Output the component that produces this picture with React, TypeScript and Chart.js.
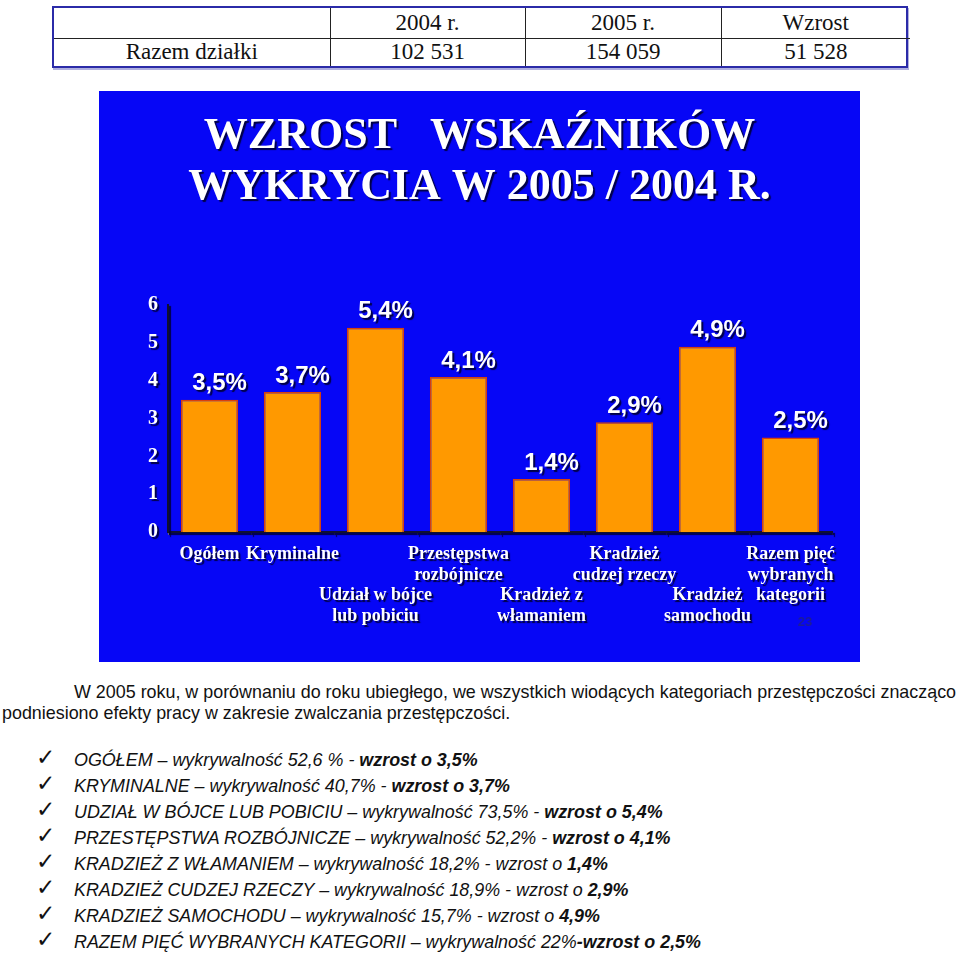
import React, { useEffect, useRef } from "react";
import { Chart, registerables } from "chart.js";

Chart.register(...registerables);

// ---------- data ----------
const tableHeader = ["", "2004 r.", "2005 r.", "Wzrost"];
const tableRow = ["Razem działki", "102 531", "154 059", "51 528"];

const chartTitle = ["WZROST   WSKAŹNIKÓW", "WYKRYCIA W 2005 / 2004 R."];

const categoryLabels: string[][] = [
  ["Ogółem"],
  ["Kryminalne"],
  ["", "", "Udział w bójce", "lub pobiciu"],
  ["Przestępstwa", "rozbójnicze"],
  ["", "", "Kradzież z", "włamaniem"],
  ["Kradzież", "cudzej rzeczy"],
  ["", "", "Kradzież", "samochodu"],
  ["Razem pięć", "wybranych", "kategorii"],
];

const growthValues = [3.5, 3.7, 5.4, 4.1, 1.4, 2.9, 4.9, 2.5];

const yMin = 0;
const yMax = 6;
const yStep = 1;

const pageNumber = "23";

const introLine1 = "W 2005 roku, w porównaniu do roku ubiegłego, we wszystkich wiodących kategoriach przestępczości znacząco";
const introLine2 = "podniesiono efekty pracy w zakresie zwalczania przestępczości.";

type Seg = [string, boolean];
const listItems: Seg[][] = [
  [["OGÓŁEM – wykrywalność 52,6 % - ", false], ["wzrost o 3,5%", true]],
  [["KRYMINALNE – wykrywalność 40,7% - ", false], ["wzrost o 3,7%", true]],
  [["UDZIAŁ W BÓJCE LUB POBICIU – wykrywalność 73,5% - ", false], ["wzrost o 5,4%", true]],
  [["PRZESTĘPSTWA ROZBÓJNICZE – wykrywalność 52,2% - ", false], ["wzrost o 4,1%", true]],
  [["KRADZIEŻ Z WŁAMANIEM – wykrywalność 18,2% - wzrost o ", false], ["1,4%", true]],
  [["KRADZIEŻ CUDZEJ RZECZY – wykrywalność 18,9% - wzrost o ", false], ["2,9%", true]],
  [["KRADZIEŻ SAMOCHODU – wykrywalność 15,7% - wzrost o ", false], ["4,9%", true]],
  [["RAZEM PIĘĆ WYBRANYCH KATEGORII – wykrywalność 22%", false], ["-wzrost o 2,5%", true]],
];

// ---------- chart ----------
const fmtPct = (v: number) => v.toFixed(1).replace(".", ",") + "%";

const effectsPlugin = {
  id: "effects",
  beforeDraw(chart: any) {
    const c = chart.ctx;
    c.save();
    c.shadowColor = "rgba(0,0,50,0.9)";
    c.shadowOffsetX = 2;
    c.shadowOffsetY = 2;
    c.shadowBlur = 1;
  },
  beforeDatasetsDraw(chart: any) {
    chart.ctx.restore();
  },
  afterDatasetsDraw(chart: any) {
    const c = chart.ctx;
    const meta = chart.getDatasetMeta(0);
    const data = chart.data.datasets[0].data as number[];
    c.save();
    c.font = "bold 24px 'Liberation Sans', Arial, sans-serif";
    c.fillStyle = "#ffffff";
    c.textAlign = "center";
    c.textBaseline = "bottom";
    c.shadowColor = "rgba(0,0,50,0.9)";
    c.shadowOffsetX = 2;
    c.shadowOffsetY = 2;
    c.shadowBlur = 1;
    meta.data.forEach((bar: any, i: number) => {
      c.fillText(fmtPct(data[i]), bar.x + 10, bar.y - 4);
    });
    c.restore();
    // page number
    c.save();
    c.font = "bold 13px 'Liberation Sans', Arial, sans-serif";
    c.fillStyle = "#1c1c9a";
    c.textAlign = "center";
    c.textBaseline = "middle";
    c.fillText(pageNumber, chart.width - 55, chart.height - 40);
    c.restore();
  },
};

function BlueChart() {
  const ref = useRef<HTMLCanvasElement>(null);
  useEffect(() => {
    if (!ref.current) return;
    const serif = "'Liberation Serif', 'Times New Roman', serif";
    const chart = new Chart(ref.current, {
      type: "bar",
      data: {
        labels: categoryLabels,
        datasets: [
          {
            data: growthValues,
            backgroundColor: "#ff9900",
            borderColor: "#d8400c",
            borderWidth: 1.5,
            categoryPercentage: 1,
            barPercentage: 0.69,
          },
        ],
      },
      options: {
        responsive: false,
        animation: false,
        devicePixelRatio: 1,
        layout: { padding: { left: 28, right: 28, top: 0, bottom: 0 } },
        plugins: {
          legend: { display: false },
          tooltip: { enabled: false },
          title: {
            display: true,
            text: chartTitle,
            color: "#ffffff",
            font: { family: serif, weight: "bold", size: 44, lineHeight: 1.16 },
            padding: { top: 20, bottom: 92 },
          },
        },
        scales: {
          x: {
            afterFit: (s: any) => {
              s.height = 130;
            },
            grid: {
              display: true,
              drawOnChartArea: false,
              drawTicks: true,
              tickLength: 3,
              offset: true,
              color: "#6a6a9a",
            },
            border: { display: true, color: "#101030", width: 2 },
            ticks: {
              autoSkip: false,
              maxRotation: 0,
              minRotation: 0,
              padding: 9,
              color: "#ffffff",
              font: { family: serif, weight: "bold", size: 18, lineHeight: 1.15 },
            },
          },
          y: {
            min: yMin,
            max: yMax,
            afterFit: (s: any) => {
              s.width = 41;
            },
            grid: { display: false, drawTicks: false },
            border: { display: true, color: "#101030", width: 2 },
            ticks: {
              stepSize: yStep,
              padding: 10,
              color: "#ffffff",
              font: { family: serif, weight: "bold", size: 20 },
            },
          },
        },
      },
      plugins: [effectsPlugin],
    } as any);
    return () => chart.destroy();
  }, []);
  return <canvas ref={ref} width={761} height={571} style={{ display: "block" }} />;
}

export default function App() {
  const cellStyle: React.CSSProperties = {
    borderLeft: "1px solid #222",
    textAlign: "center",
    padding: 0,
    fontFamily: "'Liberation Serif', 'Times New Roman', serif",
    fontSize: 23,
    color: "#111",
  };
  const colWidths = [276, 195, 196, 189];
  return (
    <div style={{ position: "absolute", left: 0, top: 0, width: 960, height: 957, background: "#fff" }}>
      {/* table */}
      <div
        style={{
          position: "absolute",
          left: 52,
          top: 6,
          width: 852,
          height: 58,
          border: "2px solid #2b2ba8",
          boxShadow: "1px 2px 0 #b0b0e0",
        }}
      >
        <table style={{ borderCollapse: "collapse", width: "100%", height: "100%", tableLayout: "fixed" }}>
          <colgroup>
            {colWidths.map((w, i) => (
              <col key={i} style={{ width: w }} />
            ))}
          </colgroup>
          <tbody>
            <tr style={{ height: 30 }}>
              {tableHeader.map((t, i) => (
                <td key={i} style={{ ...cellStyle, borderLeft: i === 0 ? "none" : cellStyle.borderLeft, borderBottom: "1px solid #222" }}>
                  {t}
                </td>
              ))}
            </tr>
            <tr style={{ height: 28 }}>
              {tableRow.map((t, i) => (
                <td key={i} style={{ ...cellStyle, borderLeft: i === 0 ? "none" : cellStyle.borderLeft }}>
                  {t}
                </td>
              ))}
            </tr>
          </tbody>
        </table>
      </div>

      {/* chart */}
      <div style={{ position: "absolute", left: 99, top: 91, width: 761, height: 571, background: "#0606f6" }}>
        <BlueChart />
      </div>

      {/* text */}
      <div
        style={{
          position: "absolute",
          left: 2,
          top: 682,
          width: 958,
          fontFamily: "'Liberation Sans', Arial, sans-serif",
          fontSize: 17.9,
          lineHeight: "21px",
          color: "#111",
          whiteSpace: "nowrap",
        }}
      >
        <div style={{ paddingLeft: 72 }}>{introLine1}</div>
        <div>{introLine2}</div>
      </div>

      <div
        style={{
          position: "absolute",
          left: 0,
          top: 747,
          width: 960,
          fontFamily: "'Liberation Sans', Arial, sans-serif",
          fontSize: 17.9,
          lineHeight: "26px",
          color: "#111",
          whiteSpace: "nowrap",
        }}
      >
        {listItems.map((segs, i) => (
          <div key={i} style={{ position: "relative", height: 26 }}>
            <span
              style={{
                position: "absolute",
                left: 36,
                top: -5,
                fontFamily: "'DejaVu Sans', sans-serif",
                fontSize: 23,
                lineHeight: "30px",
              }}
            >
              ✓
            </span>
            <span style={{ position: "absolute", left: 74, fontStyle: "italic" }}>
              {segs.map(([t, b], j) => (
                <span key={j} style={{ fontWeight: b ? "bold" : "normal" }}>
                  {t}
                </span>
              ))}
            </span>
          </div>
        ))}
      </div>
    </div>
  );
}
